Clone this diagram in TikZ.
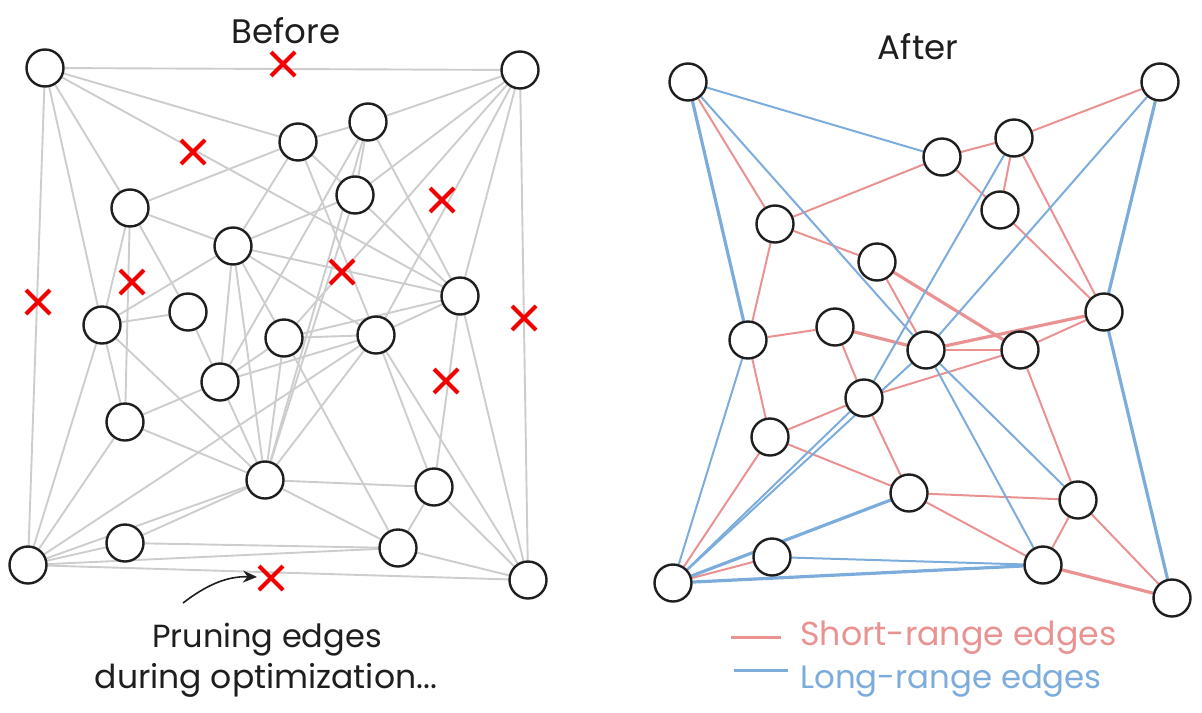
\documentclass[tikz,border=0pt]{standalone}
\usepackage{fontspec}
\setmainfont{Poppins}
\usetikzlibrary{arrows.meta}
\definecolor{grayedge}{RGB}{205,205,205}
\definecolor{redge}{RGB}{234,146,146}
\definecolor{bedge}{RGB}{124,172,220}
\definecolor{xred}{RGB}{242,0,0}
\definecolor{ink}{RGB}{30,30,30}
\pgfdeclarelayer{bg}
\pgfsetlayers{bg,main}
\tikzset{
  vtx/.style={circle, draw=ink, line width=1.2pt, fill=white, minimum size=18.5pt, inner sep=0pt},
  ge/.style={draw=grayedge, line width=0.95pt},
  se/.style={draw=redge, line width=1pt},
  sew/.style={draw=redge, line width=1.6pt},
  le/.style={draw=bedge, line width=1pt},
  lew/.style={draw=bedge, line width=1.6pt},
  xmk/.pic={\draw[xred, line width=2pt] (-12,-12) -- (12,12) (-12,12) -- (12,-12);},
  lbl/.style={font=\fontsize{16}{19}\selectfont, text=ink, inner sep=0pt}
}
\begin{document}
\begin{tikzpicture}[x=0.5pt,y=-0.5pt]
\path[use as bounding box] (0,0) rectangle (1202,712);

% ---------------- Before ----------------
\foreach \n/\x/\y in {a1/45/68, a2/520/70, a3/298/142, a4/368/122, a5/130/208,
  a6/355/195, a7/233/246, a8/460/296, a9/188/312, a10/102/325, a11/284/338,
  a12/376/335, a13/220/382, a14/125/422, a15/265/480, a16/434/487,
  a17/125/543, a18/398/548, a19/28/565, a20/528/580}
  {\node[vtx] (\n) at (\x,\y) {};}

\begin{pgfonlayer}{bg}
\foreach \u/\v in {a1/a2, a1/a3, a1/a8, a1/a5, a1/a10, a1/a19,
  a2/a4, a2/a6, a2/a12, a2/a8, a2/a20, a2/a11,
  a3/a4, a3/a5, a3/a7, a3/a12, a3/a6,
  a4/a6, a4/a8, a4/a13, a4/a15,
  a5/a7, a5/a10, a5/a14, a5/a9,
  a6/a7, a6/a8, a6/a15,
  a7/a10, a7/a8, a7/a13, a7/a15, a7/a11, a7/a12,
  a8/a12, a8/a11, a8/a16, a8/a20,
  a9/a10, a9/a13,
  a10/a14, a10/a15, a10/a19,
  a11/a12, a11/a13, a11/a15, a11/a18,
  a12/a13, a12/a15, a12/a16, a12/a20, a12/a19,
  a13/a14, a13/a15,
  a14/a15, a14/a19,
  a15/a16, a15/a18, a15/a19, a15/a17,
  a16/a18, a16/a20,
  a17/a18, a17/a19,
  a18/a19, a18/a20,
  a19/a20}
  {\draw[ge] (\u) -- (\v);}
\end{pgfonlayer}

\foreach \x/\y in {283/64, 193/152, 442/200, 342/272, 132/282, 38/302, 524/318, 446/381, 271/578}
  {\pic at (\x,\y) {xmk};}

\node[lbl, font=\fontsize{17}{20}\selectfont] (before) at (286,31) {Before};
\node[lbl, anchor=base] (prune1) at (267,647) {Pruning edges};
\node[lbl, anchor=base, font=\fontsize{16.5}{19}\selectfont] (prune2) at (266,688) {during optimization...};
\coordinate (arrs) at (183,603);
\coordinate (arre) at (257,577);
\draw[ink, line width=0.8pt, -{Stealth[length=7pt,width=6pt]}] (arrs) .. controls (205,586) and (226,576) .. (arre);

% ---------------- After ----------------
\foreach \n/\x/\y in {b1/688/82, b2/1160/82, b3/942/157, b4/1014/138, b5/1000/210,
  b6/775/224, b7/877/262, b8/1104/312, b9/835/327, b10/748/340, b11/926/350,
  b12/1020/350, b13/864/398, b14/770/437, b15/909/493, b16/1078/500,
  b17/772/557, b18/1043/565, b19/673/583, b20/1172/598}
  {\node[vtx] (\n) at (\x,\y) {};}

\begin{pgfonlayer}{bg}
\foreach \u/\v in {b1/b6, b6/b3, b6/b7, b6/b10, b7/b11, b3/b4, b3/b5, b4/b5,
  b2/b4, b4/b8, b5/b8, b10/b9, b9/b13, b10/b14, b14/b13, b13/b15,
  b14/b15, b13/b12, b11/b12, b12/b8, b12/b16, b15/b16, b15/b18,
  b16/b18, b16/b20, b19/b14, b19/b17}
  {\draw[se] (\u) -- (\v);}
\foreach \u/\v in {b7/b12, b9/b11, b11/b8, b18/b20}
  {\draw[sew] (\u) -- (\v);}
\foreach \u/\v in {b1/b3, b1/b11, b11/b16, b11/b18, b2/b11, b19/b11, b19/b13, b4/b13, b17/b18, b10/b19}
  {\draw[le] (\u) -- (\v);}
\foreach \u/\v in {b1/b10, b2/b8, b8/b20, b19/b15, b19/b18}
  {\draw[lew] (\u) -- (\v);}
\end{pgfonlayer}

\node[lbl, font=\fontsize{17}{20}\selectfont] (after) at (918,47) {After};

% legend
\coordinate (ls1) at (731,637);
\coordinate (ls2) at (781,637);
\coordinate (ll1) at (734,670);
\coordinate (ll2) at (788,670);
\draw[redge, line width=1.5pt] (ls1) -- (ls2);
\draw[bedge, line width=1.5pt] (ll1) -- (ll2);
\node[lbl, anchor=base west, text=redge, font=\fontsize{16.6}{19}\selectfont] (legs) at (800,645) {Short-range edges};
\node[lbl, anchor=base west, text=bedge, font=\fontsize{16.2}{19}\selectfont] (legl) at (800,688) {Long-range edges};
\end{tikzpicture}
\end{document}
